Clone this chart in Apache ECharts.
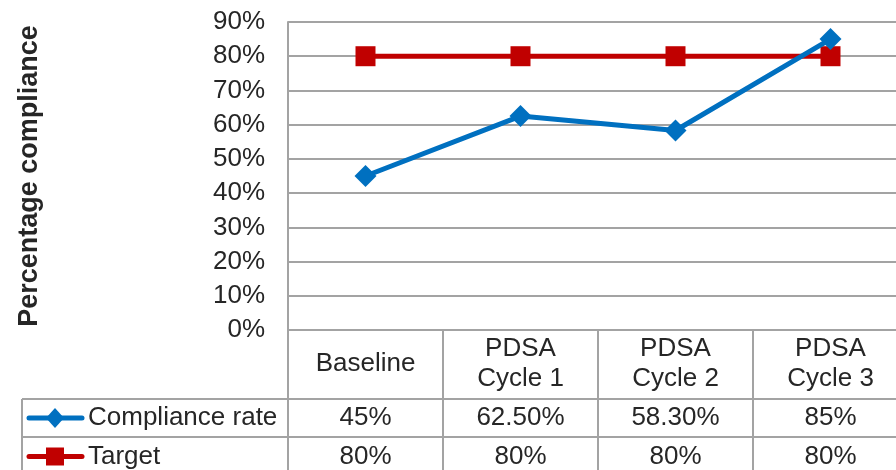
<!DOCTYPE html>
<html>
<head>
<meta charset="utf-8">
<script src="https://cdn.jsdelivr.net/npm/echarts@6/dist/echarts.min.js"></script>
<style>
  html, body { margin: 0; padding: 0; background: #fff; overflow: hidden; width: 896px; height: 470px; }
  /* the table's last column runs slightly past the right edge of the page */
  #chart { width: 908px; height: 470px; }
</style>
</head>
<body>
<div id="chart"></div>
<script>
// Compliance with target across PDSA cycles
var categories = ['Baseline', 'PDSA\nCycle 1', 'PDSA\nCycle 2', 'PDSA\nCycle 3'];
var complianceRate = [45, 62.5, 58.3, 85];
var target = [80, 80, 80, 80];
var seriesNames = ['Compliance rate', 'Target'];
var yTicks = [0, 10, 20, 30, 40, 50, 60, 70, 80, 90];

var BLUE = '#0070C0';
var RED = '#C00000';
var GRID = '#a3a3a3';
var TEXT = '#262626';
var FONT = 'Liberation Sans, Arial, sans-serif';
var FS = 26;
var LW = 5;

function pct(v) {
  return (Number.isInteger(v) ? String(v) : v.toFixed(2)) + '%';
}

var chart = echarts.init(document.getElementById('chart'), null, { renderer: 'canvas' });

var option = {
  animation: false,
  textStyle: { fontFamily: FONT },
  grid: { left: 288, top: 22, right: 0, bottom: 140, containLabel: false },
  xAxis: {
    type: 'category',
    data: categories,
    boundaryGap: true,
    axisLine: { show: true, lineStyle: { color: GRID, width: 2 } },
    axisTick: { show: true, length: 148, lineStyle: { color: GRID, width: 2 } },
    axisLabel: {
      fontSize: FS, color: TEXT, fontFamily: FONT,
      lineHeight: 30, margin: 34, verticalAlign: 'middle', interval: 0
    }
  },
  yAxis: {
    type: 'value',
    min: yTicks[0],
    max: yTicks[yTicks.length - 1],
    interval: 10,
    name: 'Percentage compliance',
    nameLocation: 'middle',
    nameGap: 245,
    nameTextStyle: { fontSize: 27, fontWeight: 'bold', color: TEXT, fontFamily: FONT },
    axisLine: { show: true, lineStyle: { color: GRID, width: 2 } },
    axisTick: { show: false },
    splitLine: { show: true, lineStyle: { color: GRID, width: 2 } },
    axisLabel: { fontSize: FS, color: TEXT, fontFamily: FONT, margin: 23, formatter: '{value}%' }
  },
  series: [
    {
      name: seriesNames[0], type: 'line', data: complianceRate,
      symbol: 'diamond', symbolSize: 22,
      lineStyle: { color: BLUE, width: LW },
      itemStyle: { color: BLUE }, z: 3
    },
    {
      name: seriesNames[1], type: 'line', data: target,
      symbol: 'rect', symbolSize: 20,
      lineStyle: { color: RED, width: LW },
      itemStyle: { color: RED }, z: 2
    }
  ]
};
chart.setOption(option);

// Data table beneath the axis: row lines, legend keys and values
var rowTops = [399, 437];
var rowBottom = 476;
var tableLeft = 22;
var tableRight = chart.getWidth();
var graphics = [];

rowTops.forEach(function (y) {
  graphics.push({ type: 'line', shape: { x1: tableLeft, y1: y, x2: tableRight, y2: y },
    style: { stroke: GRID, lineWidth: 2 }, silent: true });
});
graphics.push({ type: 'line', shape: { x1: tableLeft, y1: rowTops[0], x2: tableLeft, y2: rowBottom },
  style: { stroke: GRID, lineWidth: 2 }, silent: true });

var rowData = [complianceRate, target];
var colors = [BLUE, RED];
rowData.forEach(function (vals, r) {
  var cy = (rowTops[r] + (r + 1 < rowTops.length ? rowTops[r + 1] : rowBottom)) / 2;
  // legend key
  graphics.push({ type: 'line', shape: { x1: 29, y1: cy, x2: 82, y2: cy },
    style: { stroke: colors[r], lineWidth: LW, lineCap: 'round' }, silent: true });
  if (r === 0) {
    graphics.push({ type: 'polygon', shape: { points: [[55, cy - 10], [64, cy], [55, cy + 10], [46, cy]] },
      style: { fill: colors[r] }, silent: true });
  } else {
    graphics.push({ type: 'rect', shape: { x: 46, y: cy - 9, width: 18, height: 18 },
      style: { fill: colors[r] }, silent: true });
  }
  graphics.push({ type: 'text', x: 88, y: cy,
    style: { text: seriesNames[r], font: FS + 'px ' + FONT, fill: TEXT, verticalAlign: 'middle', align: 'left' },
    silent: true });
  vals.forEach(function (v, i) {
    var cx = chart.convertToPixel({ xAxisIndex: 0 }, i);
    graphics.push({ type: 'text', x: cx, y: cy,
      style: { text: pct(v), font: FS + 'px ' + FONT, fill: TEXT, verticalAlign: 'middle', align: 'center' },
      silent: true });
  });
});

chart.setOption({ graphic: graphics });
</script>
</body>
</html>
